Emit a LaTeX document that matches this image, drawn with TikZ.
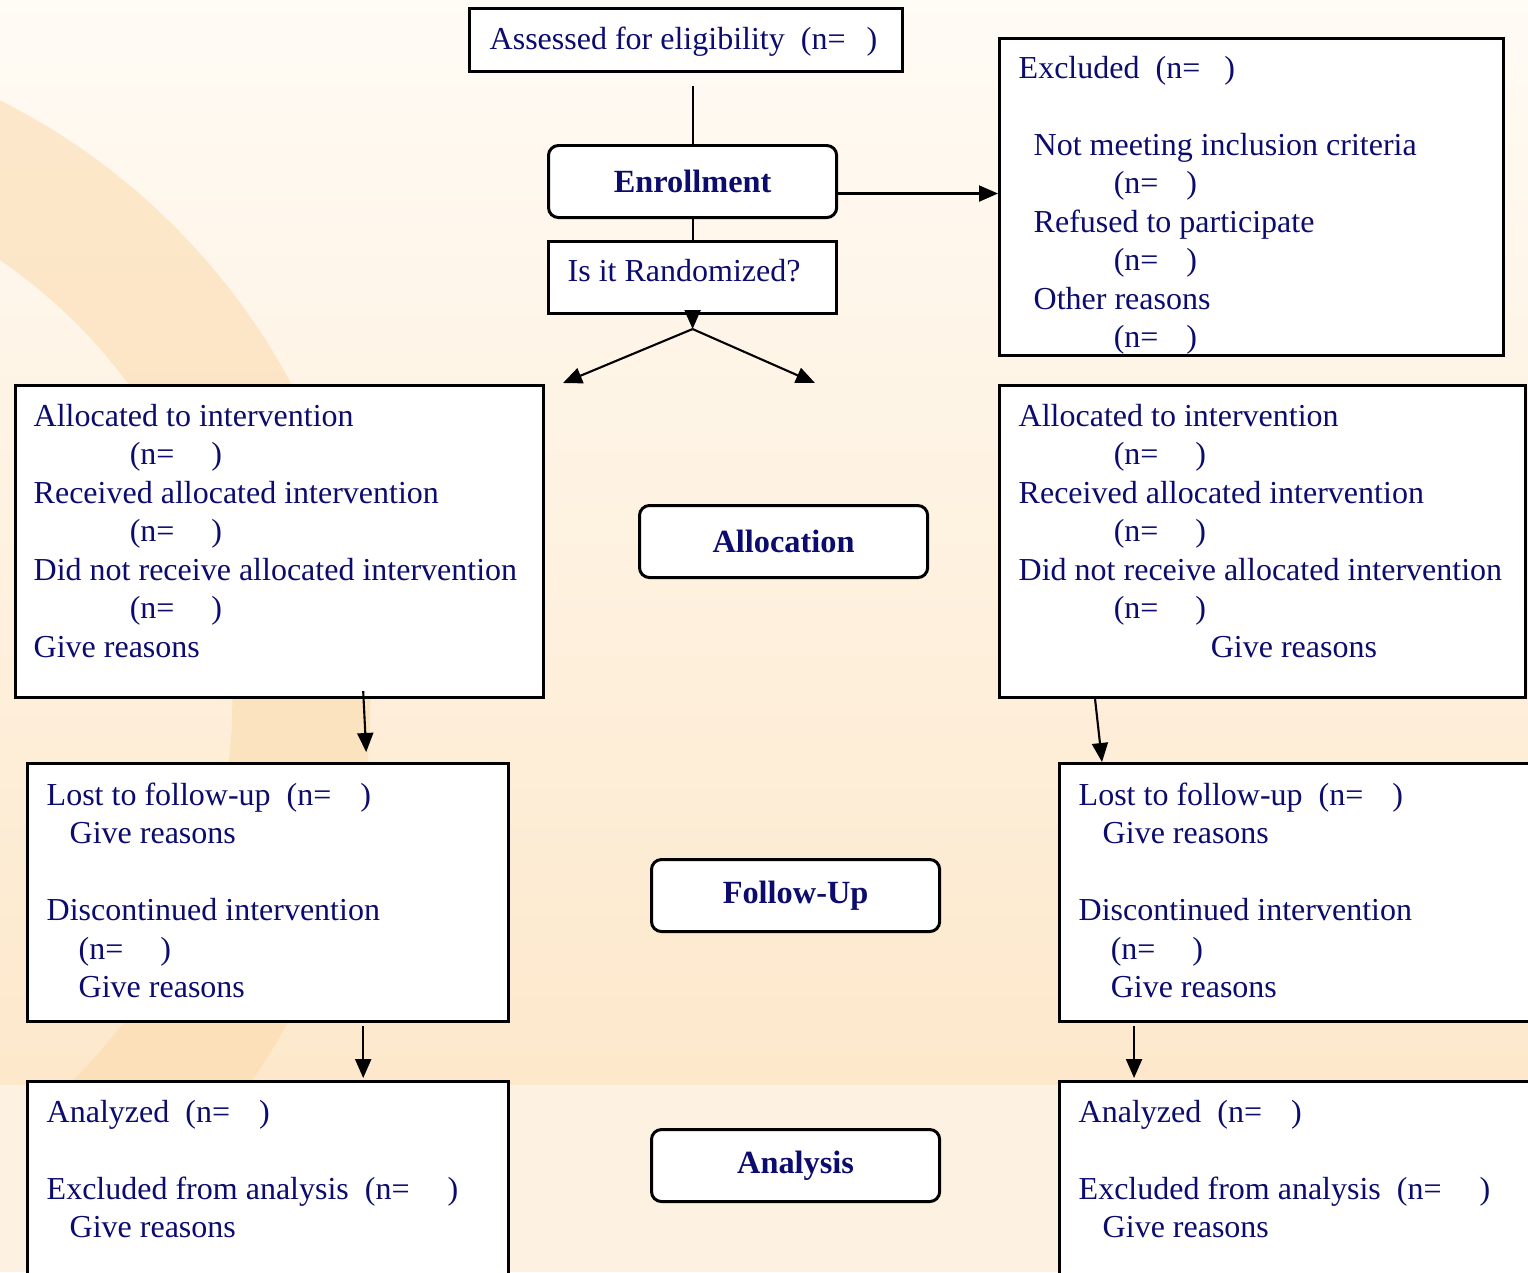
\documentclass[tikz,border=0pt]{standalone}
\usepackage{fontspec}
\setmainfont{Liberation Serif}
\usepackage{xcolor}
\usepackage{tikz}
\usetikzlibrary{arrows.meta,positioning,calc}
\definecolor{navytext}{RGB}{12,12,110}
\definecolor{bgtop}{RGB}{255,251,245}
\definecolor{bgmid}{RGB}{253,232,203}
\definecolor{bglow}{RGB}{253,241,226}
\definecolor{swirl}{RGB}{251,218,172}
\newcommand{\rows}[1]{\begin{tabular}[t]{@{}l@{}}#1\end{tabular}}
\newcommand{\nblank}[1]{(n=\hspace{#1})}

\begin{document}
\begin{tikzpicture}[
  x=0.01cm, y=-0.01cm,
  every node/.style={font=\fontsize{9.1pt}{10.95pt}\selectfont, text=navytext},
  box/.style 2 args={draw=black, fill=white, line width=0.85pt, anchor=north west,
              inner sep=0pt, minimum width=#1, minimum height=#2},
  stage/.style={draw=black, fill=white, line width=0.85pt, rounded corners=0.1cm,
              anchor=north west, minimum width=2.88cm, minimum height=0.72cm,
              font=\fontsize{9.2pt}{11pt}\selectfont\bfseries},
  txt/.style={anchor=base west, inner sep=0pt},
  link/.style={line width=0.6pt},
  arr/.style={-{Triangle[length=0.19cm,width=0.16cm]}, line width=0.6pt}
]
  \useasboundingbox (0,0) rectangle (1528,1272);
  \clip (0,0) rectangle (1528,1272);
  % Background
  \fill[top color=bgtop, bottom color=bgmid] (0,0) rectangle (1528,1085);
  \fill[bglow] (0,1085) rectangle (1528,1272);
  \begin{scope}
    \clip (0,0) rectangle (1528,1085);
    \fill[swirl, opacity=0.55, even odd rule]
      (-300,700) circle[radius=6.7cm] (-300,700) circle[radius=5.32cm];
  \end{scope}
  % Nodes
  \node[box={4.33cm}{0.63cm}] (assess) at (468,7) {};
  \node[txt] at ([xshift=0.21cm,yshift=-0.42cm]assess.north west)
    {Assessed for eligibility\ \ \nblank{0.21cm}};
  \node[stage] (enrol) at (547,144) {Enrollment};
  \node[box={2.88cm}{0.72cm}] (rand) at (547,240) {};
  \node[txt] at ([xshift=0.20cm,yshift=-0.41cm]rand.north west) {Is it Randomized?};
  \node[box={5.04cm}{3.17cm}] (excl) at (998,37) {};
  \node[txt] at ([xshift=0.20cm,yshift=-0.41cm]excl.north west) {\rows{%
    Excluded\ \ \nblank{0.24cm}\\ \\
    \hspace*{0.15cm}Not meeting inclusion criteria\\
    \hspace*{0.95cm}\nblank{0.28cm}\\
    \hspace*{0.15cm}Refused to participate\\
    \hspace*{0.95cm}\nblank{0.28cm}\\
    \hspace*{0.15cm}Other reasons\\
    \hspace*{0.95cm}\nblank{0.28cm}}};
  \node[box={5.28cm}{3.12cm}] (allocL) at (14,384) {};
  \node[txt] at ([xshift=0.19cm,yshift=-0.42cm]allocL.north west) {\rows{%
    Allocated to intervention\\
    \hspace*{0.96cm}\nblank{0.37cm}\\
    Received allocated intervention\\
    \hspace*{0.96cm}\nblank{0.37cm}\\
    Did not receive allocated intervention\\
    \hspace*{0.96cm}\nblank{0.37cm}\\
    Give reasons}};
  \node[stage] (alloc) at (638,504) {Allocation};
  \node[box={5.26cm}{3.12cm}] (allocR) at (998,384) {};
  \node[txt] at ([xshift=0.20cm,yshift=-0.42cm]allocR.north west) {\rows{%
    Allocated to intervention\\
    \hspace*{0.95cm}\nblank{0.37cm}\\
    Received allocated intervention\\
    \hspace*{0.95cm}\nblank{0.37cm}\\
    Did not receive allocated intervention\\
    \hspace*{0.95cm}\nblank{0.37cm}\\
    \hspace*{1.92cm}Give reasons}};
  \node[box={4.81cm}{2.58cm}] (lostL) at (26,762) {};
  \node[txt] at ([xshift=0.20cm,yshift=-0.43cm]lostL.north west) {\rows{%
    Lost to follow-up\ \ \nblank{0.29cm}\\
    \hspace*{0.23cm}Give reasons\\ \\
    Discontinued intervention\\
    \hspace*{0.32cm}\nblank{0.37cm}\\
    \hspace*{0.32cm}Give reasons}};
  \node[stage] (follow) at (650,858) {Follow-Up};
  \node[box={5.20cm}{2.58cm}] (lostR) at (1058,762) {};
  \node[txt] at ([xshift=0.20cm,yshift=-0.43cm]lostR.north west) {\rows{%
    Lost to follow-up\ \ \nblank{0.29cm}\\
    \hspace*{0.24cm}Give reasons\\ \\
    Discontinued intervention\\
    \hspace*{0.32cm}\nblank{0.37cm}\\
    \hspace*{0.32cm}Give reasons}};
  \node[box={4.81cm}{2.50cm}] (anaL) at (26,1080) {};
  \node[txt] at ([xshift=0.20cm,yshift=-0.42cm]anaL.north west) {\rows{%
    Analyzed\ \ \nblank{0.29cm}\\ \\
    Excluded from analysis\ \ \nblank{0.38cm}\\
    \hspace*{0.23cm}Give reasons}};
  \node[stage] (anal) at (650,1128) {Analysis};
  \node[box={5.20cm}{2.50cm}] (anaR) at (1058,1080) {};
  \node[txt] at ([xshift=0.20cm,yshift=-0.42cm]anaR.north west) {\rows{%
    Analyzed\ \ \nblank{0.29cm}\\ \\
    Excluded from analysis\ \ \nblank{0.38cm}\\
    \hspace*{0.24cm}Give reasons}};
  % Arrows
  \draw[link, shorten <=0.13cm] (assess.south -| enrol.north) -- (enrol.north);
  \draw[link] (enrol.south) -- (rand.north);
  \draw[arr] ([yshift=-0.12cm]enrol.east) -- ([yshift=-0.12cm]enrol.east -| excl.west);
  \coordinate (split) at ([yshift=-0.14cm]rand.south);
  \coordinate (toL) at (563,383);
  \coordinate (toR) at (815,383);
  \draw[arr] (rand.south) -- (split);
  \draw[arr] (split) -- (toL);
  \draw[arr] (split) -- (toR);
  \draw[arr] ([xshift=3.49cm,yshift=0.08cm]allocL.south west) -- ([xshift=3.40cm,yshift=0.10cm]lostL.north west);
  \draw[arr] ([xshift=0.97cm]allocR.south west) -- ([xshift=0.44cm]lostR.north west);
  \draw[arr] ([xshift=3.37cm,yshift=-0.03cm]lostL.south west) -- ([xshift=3.37cm,yshift=0.02cm]anaL.north west);
  \draw[arr] ([xshift=0.76cm,yshift=-0.03cm]lostR.south west) -- ([xshift=0.76cm,yshift=0.02cm]anaR.north west);
\end{tikzpicture}
\end{document}
